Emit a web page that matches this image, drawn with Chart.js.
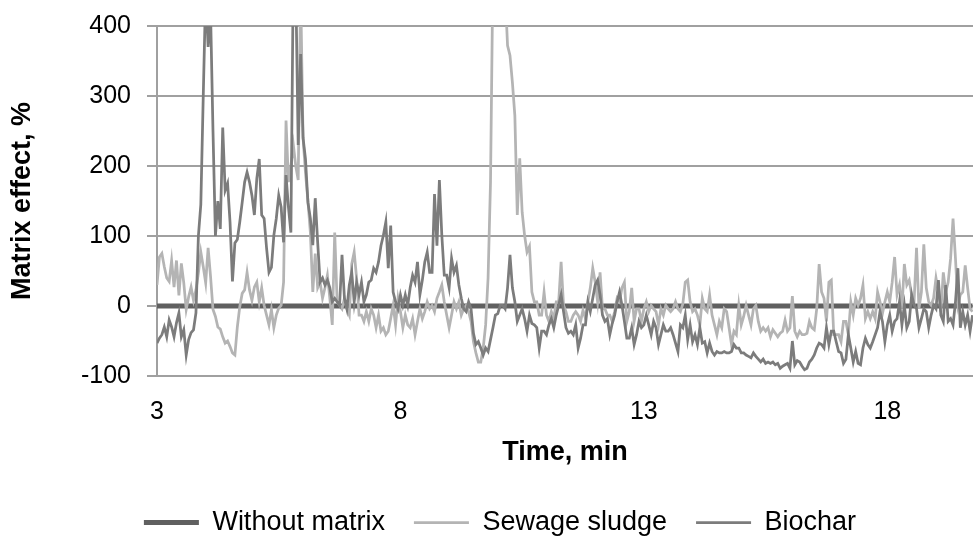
<!DOCTYPE html>
<html>
<head>
<meta charset="utf-8">
<script src="https://cdn.jsdelivr.net/npm/chart.js@4"></script>
<style>
  html, body { margin: 0; padding: 0; background: #fff; }
</style>
</head>
<body>
<canvas id="matrix-chart" width="973" height="540"></canvas>
<script>
// sampling grid of the traces (min)
const T0 = 3;
const DT = 0.05;

const xTicks = [3, 8, 13, 18];
const yTicks = [-100, 0, 100, 200, 300, 400];

const withoutMatrixTimes = [3, 19.75];
const withoutMatrix = [0, 0];

const sewageSludge = [
  30, 70, 75, 56, 40, 35, 65, 27, 65, 15,
  61, 33, -5, 13, 27, 8, 23, 47, 77, 56,
  33, 83, 42, -5, -15, -30, -33, -44, -53, -50,
  -58, -67, -70, -30, -1, 18, 23, 48, 23, 8,
  27, 34, 6, 26, 1, -13, -27, -5, -31, -13,
  -3, 1, 34, 265, 177, 200, 230, 200, 180, 450,
  240, 190, 150, 105, 20, 75, 26, 34, 11, 26,
  44, 11, -27, 105, 6, 1, -4, 11, -4, -13,
  60, 77, 40, -13, -13, -22, -8, -22, -4, -13,
  -31, -13, -36, -31, -41, -36, -18, 1, -27, 11,
  -8, -31, -13, -27, -31, -18, -41, -22, -4, -18,
  -8, 6, -4, 1, -8, 11, 20, 30, 6, -13,
  -31, -13, 6, -4, 6, -13, -4, 1, -8, -22,
  -51, -67, -80, -80, -60, -27, 40, 177, 480, 520,
  520, 500, 480, 450, 372, 358, 319, 272, 130, 211,
  134, 101, 77, 85, 20, 6, 6, -13, -13, 20,
  -13, -22, -8, -18, 6, 6, 63, 1, -8, -22,
  -22, -13, -8, -13, -22, -6, -18, 6, 26, 54,
  34, 6, 48, -4, -4, -13, -13, -22, -8, 11,
  6, 26, 34, -22, -8, 26, -22, -4, -4, -22,
  -4, 6, -8, 1, -4, -8, -27, -4, -13, 1,
  -4, -8, -4, 6, -4, -8, 3, 34, 37, 6,
  -8, -4, -13, -27, 11, -4, -8, 16, -13, -27,
  -41, -22, -31, -4, -8, -31, -55, -36, -41, 1,
  -27, -15, 1, -13, -27, -4, 1, -22, -36, -31,
  -36, -31, -44, -34, -39, -44, -39, -36, -20, -36,
  -31, 14, -36, -44, -36, -41, -41, -39, -22, -31,
  -34, -4, 60, 20, 11, -22, 34, 37, -41, -41,
  -41, -51, -22, -22, -41, 6, -13, 11, 1, 11,
  30, -18, -8, -18, -8, -18, 20, 6, -11, 6,
  20, 6, 34, 70, 16, 30, -4, 60, 30, 37,
  16, 6, 83, -4, 20, 88, 26, 6, 1, 11,
  40, 20, -8, 48, 20, 34, 68, 125, 68, 1,
  16, 20, 58, 26, -4, -8
];

const biochar = [
  -53, -46, -41, -30, -44, -20, -30, -44, -24, -10,
  -44, -34, -70, -48, -38, -34, -10, 100, 145, 300,
  450, 370, 420, 250, 100, 150, 110, 255, 165, 175,
  120, 35, 90, 95, 120, 148, 177, 191, 177, 158,
  130, 182, 210, 130, 125, 83, 48, 55, 101, 125,
  158, 141, 91, 187, 141, 105, 480, 460, 230, 360,
  240, 210, 148, 125, 87, 154, 91, 34, 40, 30,
  37, 26, 6, 11, 6, 1, 73, 11, -4, 30,
  48, 6, 34, 16, 34, 6, 16, 34, 37, 54,
  48, 63, 86, 101, 120, 54, 115, 20, 6, -4,
  16, 1, 16, 1, 26, 44, 34, 63, 16, 37,
  63, 77, 48, 48, 160, 86, 180, 101, 44, 44,
  26, 68, 48, 58, 30, 11, -4, -8, 6, -4,
  -39, -55, -51, -60, -70, -60, -65, -48, -31, -13,
  -11, 1, 1, -4, 26, 73, 26, 6, -22, -13,
  -4, -18, -36, -13, -25, -27, -31, -60, -36, -36,
  -41, -27, -18, -31, -13, 1, 16, -8, -31, -39,
  -36, -41, -27, -60, -46, -27, -27, 6, -8, 11,
  30, 37, 16, -13, -22, -18, -41, -25, -13, 6,
  20, 1, -22, -46, -46, -31, -55, -41, -22, -31,
  -27, -13, -27, -41, -22, -31, -55, -41, -27, -36,
  -36, -31, -41, -53, -65, -27, -31, -13, -48, -27,
  -51, -41, -55, -31, -53, -51, -67, -53, -65, -70,
  -65, -67, -67, -65, -67, -67, -65, -55, -60, -60,
  -67, -67, -70, -72, -74, -67, -72, -76, -80, -76,
  -82, -80, -82, -80, -84, -82, -89, -86, -84, -82,
  -89, -50, -84, -78, -80, -86, -91, -89, -80, -76,
  -70, -60, -53, -55, -60, -31, -55, -36, -36, -51,
  -65, -67, -82, -76, -41, -60, -80, -65, -82, -84,
  -60, -46, -55, -60, -51, -41, -31, -8, -22, -51,
  -27, -13, -36, -22, -18, 6, -27, 1, -31, -22,
  16, 1, -4, -31, -18, -4, -8, -31, -13, 1,
  -4, 37, -13, -22, 30, -22, -18, -27, 6, 54,
  -31, -8, -27, -13, -36, -13
];

const FONT = "'Liberation Sans', Arial, sans-serif";
const GRID = "#a0a0a0";

const toPoints = (vals) => vals.map((v, i) => ({ x: T0 + i * DT, y: v }));

// Excel put the legend a bit right of the canvas centre and low
const nudgeLegend = {
  id: "nudgeLegend",
  afterLayout(chart) {
    chart.legend.left += 27;
    chart.legend.top += 6;
  },
};

const ctx = document.getElementById("matrix-chart").getContext("2d");
new Chart(ctx, {
  type: "line",
  data: {
    datasets: [
      {
        label: "Without matrix",
        data: withoutMatrixTimes.map((t, i) => ({ x: t, y: withoutMatrix[i] })),
        borderColor: "#606060",
        backgroundColor: "#606060",
        borderWidth: 5,
        order: 3,
      },
      {
        label: "Sewage sludge",
        data: toPoints(sewageSludge),
        borderColor: "#b4b4b4",
        backgroundColor: "#b4b4b4",
        borderWidth: 2.75,
        order: 2,
      },
      {
        label: "Biochar",
        data: toPoints(biochar),
        borderColor: "#7c7c7c",
        backgroundColor: "#7c7c7c",
        borderWidth: 2.75,
        order: 1,
      },
    ],
  },
  options: {
    responsive: false,
    animation: false,
    layout: { padding: { top: 25, left: 0, right: 0, bottom: 0 } },
    elements: {
      point: { radius: 0 },
      line: { tension: 0 },
    },
    scales: {
      x: {
        type: "linear",
        min: 3,
        max: 19.76,
        afterBuildTicks: (axis) => {
          axis.ticks = xTicks.map((v) => ({ value: v }));
        },
        afterFit: (axis) => {
          axis.height = 98;
        },
        grid: { display: false, drawTicks: false },
        border: { display: true, color: GRID, width: 2 },
        ticks: {
          padding: 21,
          maxRotation: 0,
          color: "#000",
          font: { family: FONT, size: 25 },
        },
        title: {
          display: true,
          text: "Time, min",
          color: "#000",
          font: { family: FONT, size: 27, weight: "bold" },
          padding: { top: 0, bottom: 5 },
        },
      },
      y: {
        min: -100,
        max: 400,
        afterBuildTicks: (axis) => {
          axis.ticks = yTicks.map((v) => ({ value: v }));
        },
        afterFit: (axis) => {
          axis.width = 157;
        },
        grid: { color: GRID, lineWidth: 2, drawTicks: true, tickLength: 10, tickColor: GRID },
        border: { display: true, color: GRID, width: 2 },
        ticks: {
          padding: 16,
          color: "#000",
          font: { family: FONT, size: 25, lineHeight: 0.8 },
        },
        title: {
          display: true,
          text: "Matrix effect, %",
          color: "#000",
          font: { family: FONT, size: 27, weight: "bold" },
          padding: { top: 6, bottom: 0 },
        },
      },
    },
    plugins: {
      legend: {
        position: "bottom",
        labels: {
          usePointStyle: true,
          pointStyle: "line",
          pointStyleWidth: 55,
          padding: 29,
          color: "#000",
          font: { family: FONT, size: 27 },
          sort: (a, b) => a.datasetIndex - b.datasetIndex,
        },
      },
      tooltip: { enabled: false },
    },
  },
  plugins: [nudgeLegend],
});
</script>
</body>
</html>
